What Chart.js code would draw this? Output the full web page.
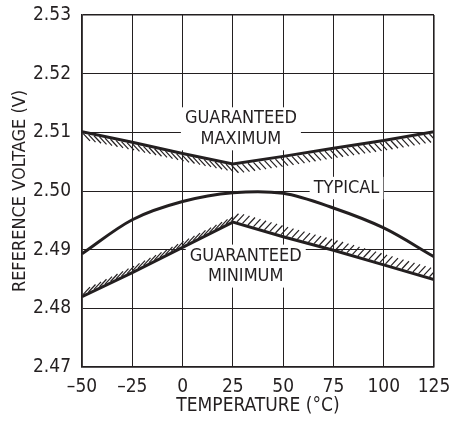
<!DOCTYPE html>
<html>
<head>
<meta charset="utf-8">
<script src="https://cdn.jsdelivr.net/npm/chart.js@4/dist/chart.umd.min.js"></script>
<style>
  html, body { margin: 0; padding: 0; background: #fff; }
  #wrap { width: 450px; height: 423px; }
</style>
</head>
<body>
<div id="wrap"><canvas id="refChart" width="450" height="423"></canvas></div>
<script>
// values
const temps = [-50, -25, 0, 25, 50, 75, 100, 125];
const xTickLabels = ['\u201350', '\u201325', '0', '25', '50', '75', '100', '125'];
const yTicks = [2.47, 2.48, 2.49, 2.50, 2.51, 2.52, 2.53];

const guaranteedMax = [2.5101, 2.5083, 2.5064, 2.5046, 2.5059, 2.5073, 2.5086, 2.5101];
const typical       = [2.4893, 2.4951, 2.4982, 2.4997, 2.4996, 2.4971, 2.4937, 2.4888];
const guaranteedMin = [2.4820, 2.4861, 2.4904, 2.4947, 2.4922, 2.4899, 2.4874, 2.4849];

const FONT = "'Liberation Sans Narrow', 'DejaVu Sans Condensed', 'Roboto', sans-serif";
const INK = '#231f20';

const toPoints = (vals) => vals.map((v, i) => ({ x: temps[i], y: v }));

// text labels in the plot (data coords for the centre of each block)
const notes = [
  { lines: ['GUARANTEED', 'MAXIMUM'], x: 29, y: 2.5106 },
  { lines: ['TYPICAL'], x: 81.5, y: 2.5005 },
  { lines: ['GUARANTEED', 'MINIMUM'], x: 31.4, y: 2.4872 }
];

const notesPlugin = {
  id: 'notes',
  beforeDatasetsDraw(chart) {
    const { ctx, scales } = chart;
    ctx.save();
    ctx.font = '18px ' + FONT;
    ctx.textAlign = 'center';
    ctx.textBaseline = 'middle';
    const lh = 20.5;
    notes.forEach(n => {
      const cx = scales.x.getPixelForValue(n.x);
      const cy = scales.y.getPixelForValue(n.y);
      const w = Math.max(...n.lines.map(t => ctx.measureText(t).width)) + 8;
      const h = n.lines.length * lh + 2;
      ctx.fillStyle = '#fff';
      ctx.fillRect(cx - w / 2, cy - h / 2, w, h);
      ctx.fillStyle = INK;
      n.lines.forEach((t, i) => {
        ctx.fillText(t, cx, cy - (n.lines.length - 1) * lh / 2 + i * lh);
      });
    });
    ctx.restore();
  }
};

// short slanted strokes along the guaranteed limits
const hatchPlugin = {
  id: 'hatch',
  afterDatasetsDraw(chart) {
    const { ctx, chartArea } = chart;
    ctx.save();
    ctx.beginPath();
    ctx.rect(chartArea.left, chartArea.top, chartArea.width, chartArea.height);
    ctx.clip();
    ctx.strokeStyle = INK;
    ctx.lineWidth = 1.2;
    chart.data.datasets.forEach((ds, i) => {
      if (!ds.hatch) return;
      const pts = chart.getDatasetMeta(i).data;
      const dir = ds.hatch === 'below' ? 1 : -1;
      for (let x = chartArea.left + 1; x < chartArea.right; x += 5.5) {
        let k = 0;
        while (k < pts.length - 2 && pts[k + 1].x < x) k++;
        const a = pts[k], b = pts[k + 1];
        const y = a.y + (b.y - a.y) * (x - a.x) / (b.x - a.x);
        ctx.beginPath();
        ctx.moveTo(x, y + dir * 1.5);
        ctx.lineTo(x + 7, y + dir * 9);
        ctx.stroke();
      }
    });
    ctx.restore();
  }
};

const lineStyle = {
  borderColor: INK,
  borderWidth: 3,
  pointRadius: 0,
  fill: false
};

new Chart(document.getElementById('refChart'), {
  type: 'line',
  data: {
    datasets: [
      Object.assign({ label: 'Guaranteed Maximum', data: toPoints(guaranteedMax), tension: 0, hatch: 'below' }, lineStyle),
      Object.assign({ label: 'Typical', data: toPoints(typical), tension: 0.33 }, lineStyle),
      Object.assign({ label: 'Guaranteed Minimum', data: toPoints(guaranteedMin), tension: 0, hatch: 'above' }, lineStyle)
    ]
  },
  options: {
    responsive: false,
    animation: false,
    devicePixelRatio: 1,
    layout: { padding: { top: 15, right: 16, left: 0, bottom: 0 } },
    plugins: {
      legend: { display: false },
      tooltip: { enabled: false }
    },
    scales: {
      x: {
        type: 'linear',
        min: -50,
        max: 125,
        afterBuildTicks: (scale) => { scale.ticks = temps.map(v => ({ value: v })); },
        afterFit: (scale) => {
          scale.height = 56;
          scale.paddingLeft = 0;
          scale.paddingRight = 0;
        },
        grid: {
          color: INK,
          lineWidth: (c) => (c.index === 0 || c.index === temps.length - 1) ? 1.6 : 1,
          drawTicks: false
        },
        border: { color: INK, width: 1.6 },
        ticks: {
          padding: 9,
          color: INK,
          font: { family: FONT, size: 19 },
          maxRotation: 0,
          callback: (v) => xTickLabels[temps.indexOf(v)]
        },
        title: {
          display: true,
          text: 'TEMPERATURE (\u00b0C)',
          color: INK,
          font: { family: FONT, size: 19 },
          padding: { top: 0, bottom: 6 }
        }
      },
      y: {
        min: 2.47,
        max: 2.53,
        afterBuildTicks: (scale) => { scale.ticks = yTicks.map(v => ({ value: v })); },
        afterFit: (scale) => {
          scale.width = 82;
          scale.paddingTop = 0;
          scale.paddingBottom = 0;
        },
        grid: {
          color: INK,
          lineWidth: (c) => (c.index === 0 || c.index === yTicks.length - 1) ? 1.6 : 1,
          drawTicks: false
        },
        border: { color: INK, width: 1.6 },
        ticks: {
          padding: 11,
          color: INK,
          font: { family: FONT, size: 19 },
          callback: (v) => v.toFixed(2)
        },
        title: {
          display: true,
          text: 'REFERENCE VOLTAGE (V)',
          color: INK,
          font: { family: FONT, size: 18 },
          padding: { top: 10, bottom: 0 }
        }
      }
    }
  },
  plugins: [notesPlugin, hatchPlugin]
});
</script>
</body>
</html>
